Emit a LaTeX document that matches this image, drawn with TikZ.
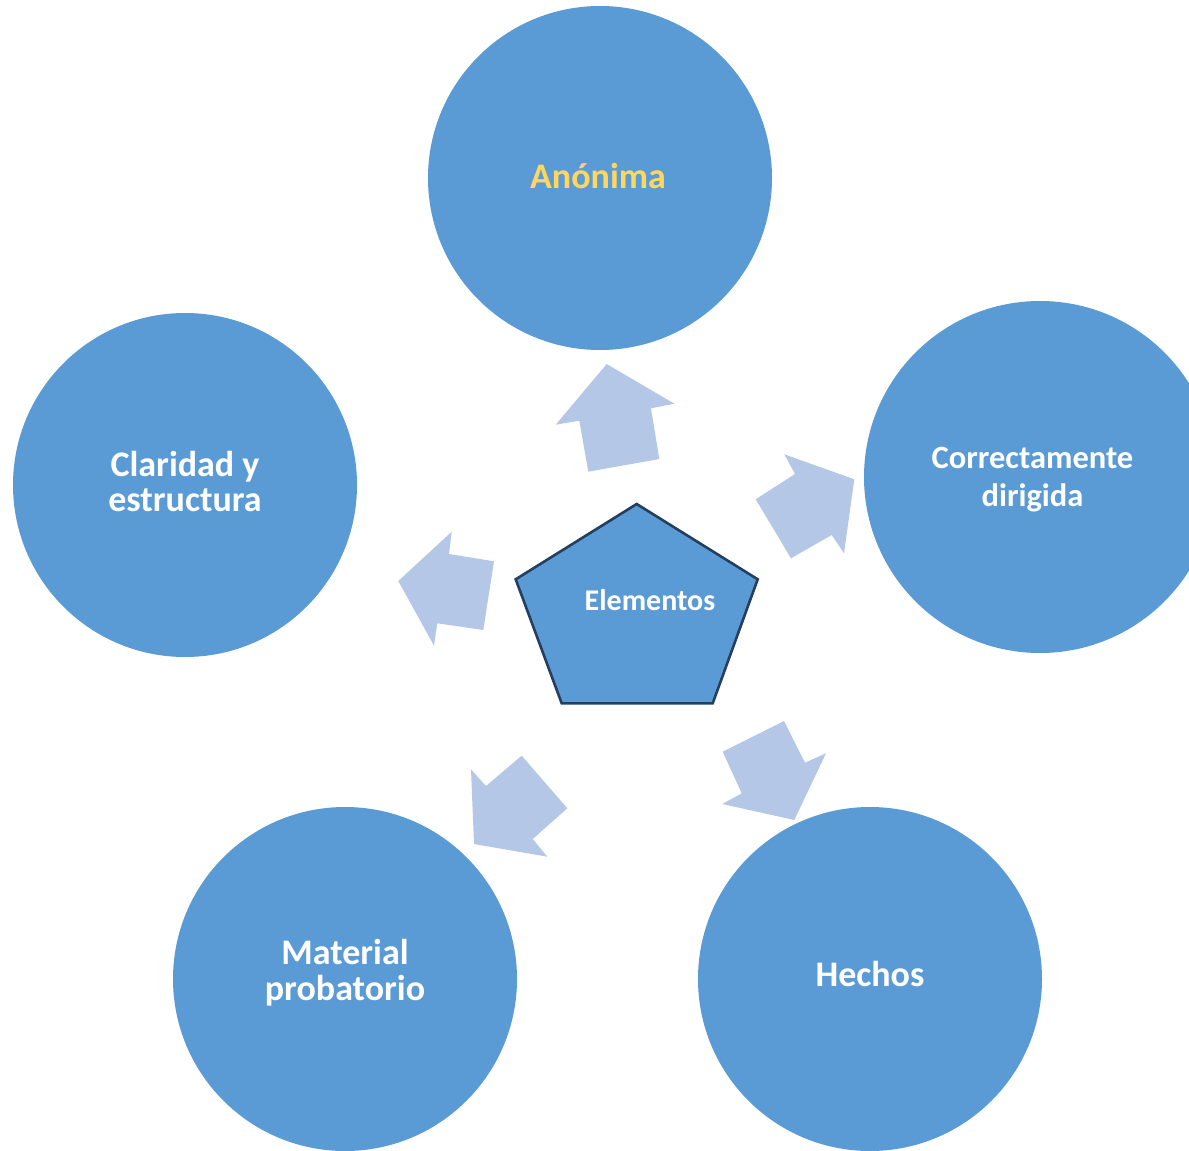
\documentclass[tikz,border=0pt]{standalone}
\usepackage{fontspec}
\setmainfont{Carlito}
\definecolor{circblue}{HTML}{5B9BD5}
\definecolor{arrowblue}{HTML}{B4C7E7}
\definecolor{pentaedge}{HTML}{243F60}
\definecolor{anonyellow}{HTML}{FFD75E}
\tikzset{
  circ/.style={circle, fill=circblue, draw=none, minimum size=344pt, inner sep=0pt},
  lbl/.style={text=white, anchor=base, inner sep=0pt, font=\bfseries\fontsize{36}{36}\selectfont},
  blockarrow/.style={fill=arrowblue, draw=none},
  penta/.style={fill=circblue, draw=pentaedge, line width=2.6pt, line join=miter}
}
\begin{document}
\begin{tikzpicture}[x=1pt,y=-1pt]
\useasboundingbox (0,0) rectangle (1189,1151);
\clip (0,0) rectangle (1189,1151);
\fill[white] (0,0) rectangle (1189,1151);

% circles
\node[circ] (anon) at (600,178) {};
\node[circ, minimum size=352pt] (corr) at (1040,477) {};
\node[circ] (clar) at (185,485) {};
\node[circ] (mat) at (345,979) {};
\node[circ] (hech) at (870,979) {};

% circle labels
\node[lbl, text=anonyellow] (anonT) at (598,188.3) {Anónima};
\node[lbl, font=\bfseries\fontsize{32.5}{36}\selectfont] (corrT1) at (1032.5,468.3) {Correctamente};
\node[lbl, font=\bfseries\fontsize{32.5}{36}\selectfont] (corrT2) at (1032.5,506) {dirigida};
\node[lbl] (clarT1) at (185,476.7) {Claridad y};
\node[lbl] (clarT2) at (185,511.7) {estructura};
\node[lbl] (matT1) at (345,964.3) {Material};
\node[lbl] (matT2) at (345,1000) {probatorio};
\node[lbl] (hechT) at (870,986.7) {Hechos};

% block arrows
\fill[blockarrow] (606.7,364) -- (674.3,403.7) -- (651,408.3) -- (659.3,459) -- (588.3,471.7) -- (579.3,420.7) -- (555.7,424.7) -- cycle;
\fill[blockarrow] (854.3,479.3) -- (844,553.3) -- (831.7,535) -- (791,558.3) -- (755.7,499.3) -- (795,474) -- (784.3,454.3) -- cycle;
\fill[blockarrow] (398.3,581) -- (451.7,531.7) -- (449,554) -- (494,561.3) -- (483.3,630) -- (437.3,623.3) -- (434,645.7) -- cycle;
\fill[blockarrow] (474,844) -- (471,769.3) -- (486,786) -- (521.7,755.7) -- (567.3,808.3) -- (532.7,839) -- (547.3,856.7) -- cycle;
\fill[blockarrow] (794.3,820) -- (722.3,804) -- (741.7,793.3) -- (722.7,751.7) -- (784,721) -- (805,762.7) -- (826,753.3) -- cycle;

% central pentagon
\draw[penta] (636.7,504) -- (757.7,579.3) -- (712.7,703.3) -- (561.7,703.3) -- (515.7,579.3) -- cycle;
\node[lbl, font=\bfseries\fontsize{30}{32}\selectfont] (elem) at (650,610) {Elementos};
\end{tikzpicture}
\end{document}
